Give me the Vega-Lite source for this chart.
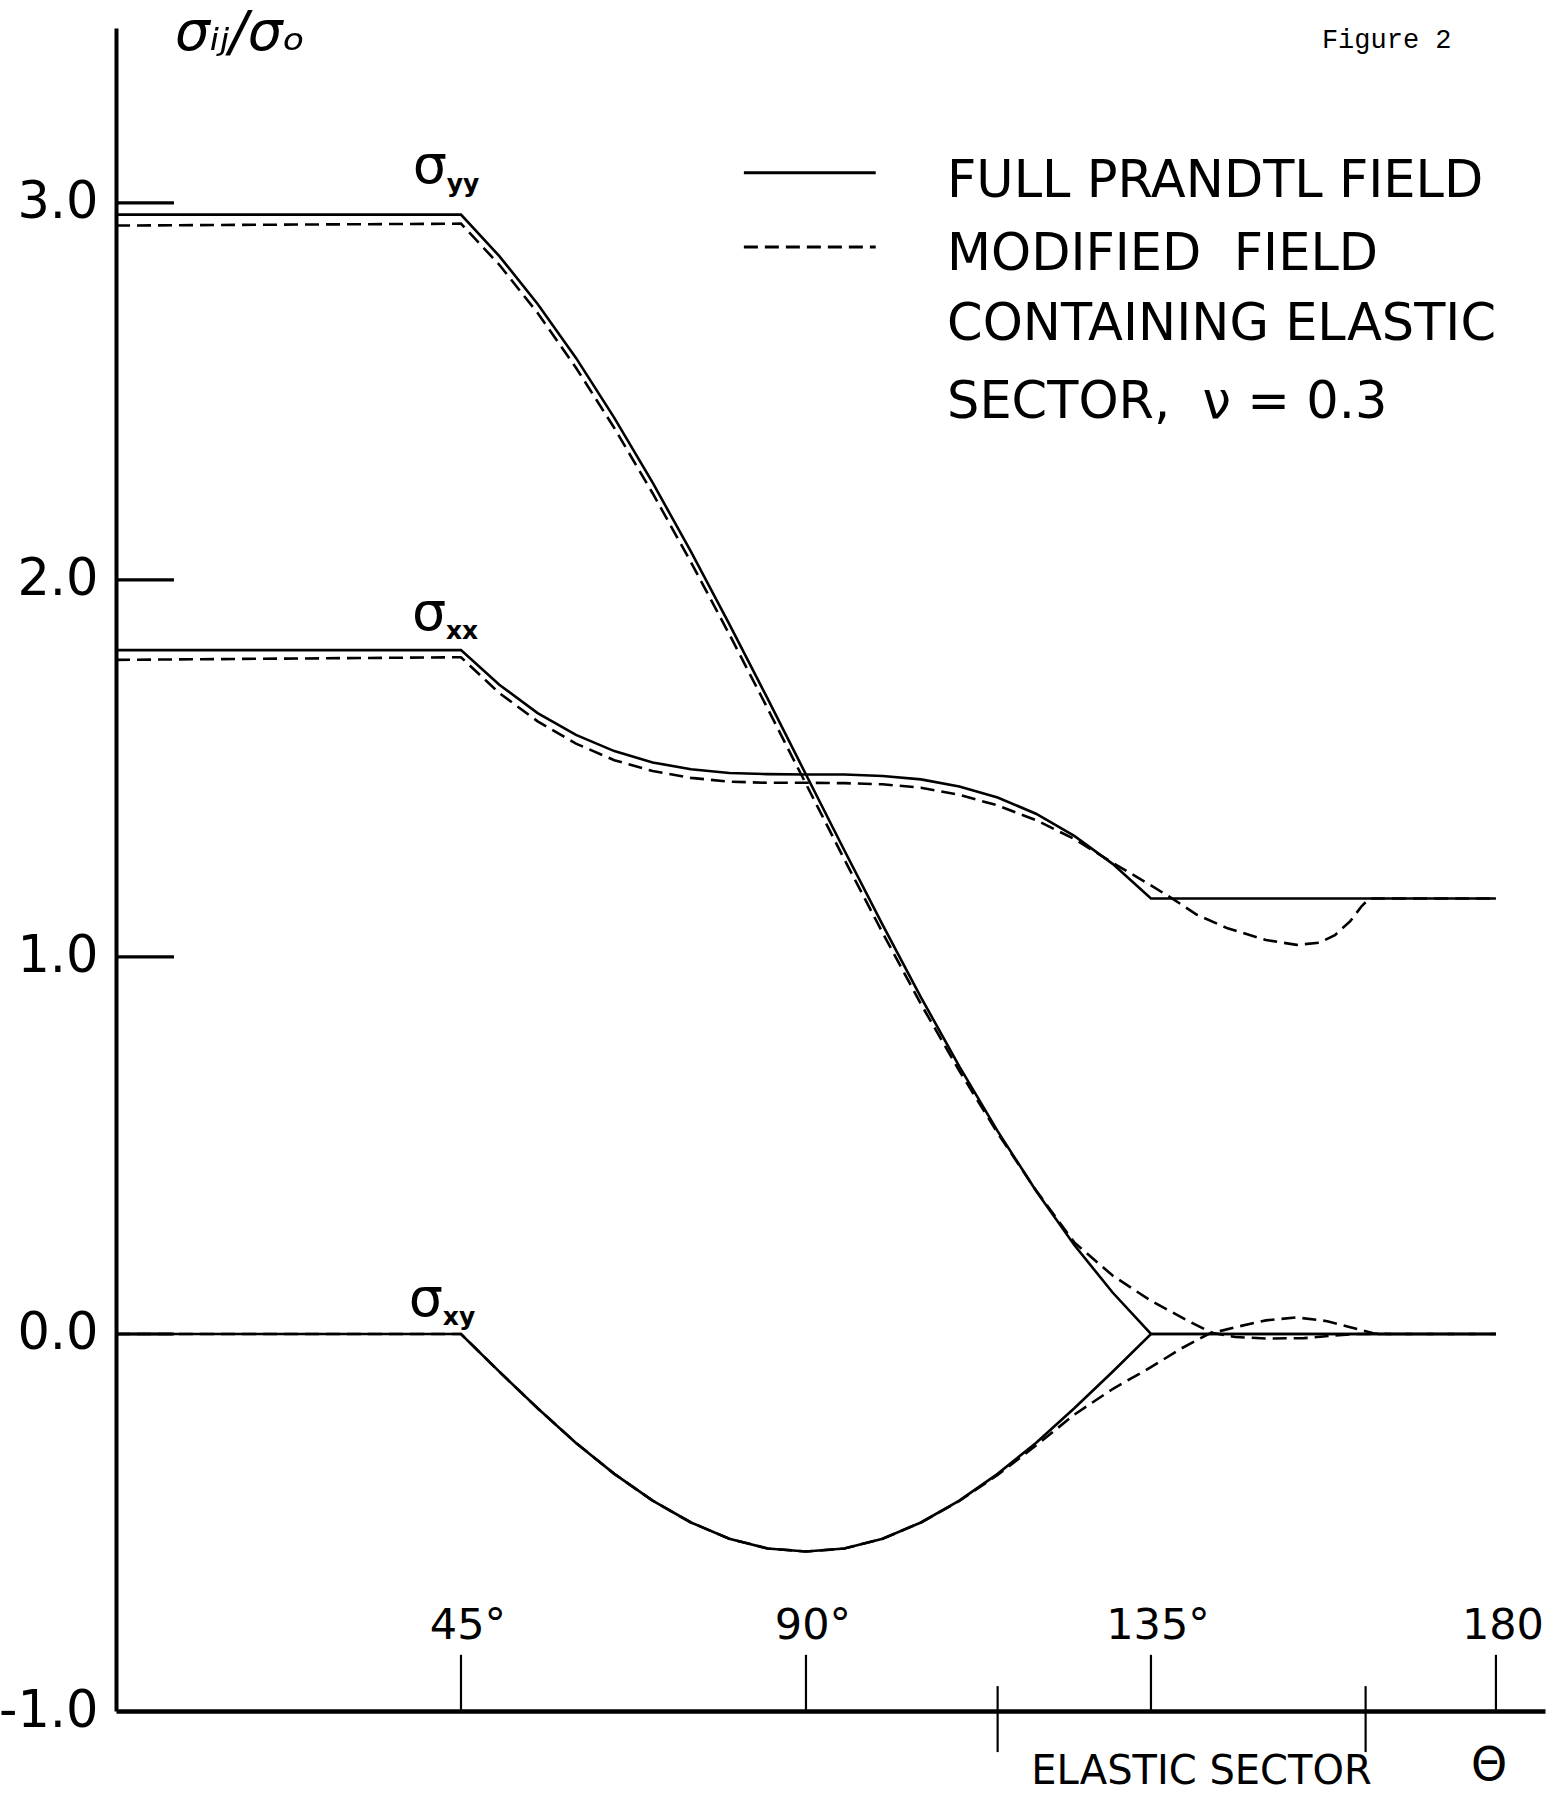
{
"$schema":"https://vega.github.io/schema/vega-lite/v6.json",
"width":1429,"height":1683,
"autosize":{"type":"none"},
"padding":{"left":116,"top":28,"right":5,"bottom":86},
"background":"white",
"config":{"view":{"stroke":null},"axis":{"grid":false},"text":{"font":"DejaVu Sans","color":"black"}},
"datasets":{
"full":[
{"stress":"yy","theta":0,"value":2.969},{"stress":"yy","theta":45,"value":2.969},{"stress":"yy","theta":50,"value":2.859},{"stress":"yy","theta":55,"value":2.732},{"stress":"yy","theta":60,"value":2.589},{"stress":"yy","theta":65,"value":2.430},{"stress":"yy","theta":70,"value":2.258},{"stress":"yy","theta":75,"value":2.075},{"stress":"yy","theta":80,"value":1.883},{"stress":"yy","theta":85,"value":1.685},{"stress":"yy","theta":90,"value":1.484},{"stress":"yy","theta":95,"value":1.283},{"stress":"yy","theta":100,"value":1.085},{"stress":"yy","theta":105,"value":0.893},{"stress":"yy","theta":110,"value":0.710},{"stress":"yy","theta":115,"value":0.538},{"stress":"yy","theta":120,"value":0.380},{"stress":"yy","theta":125,"value":0.236},{"stress":"yy","theta":130,"value":0.110},{"stress":"yy","theta":135,"value":0},{"stress":"yy","theta":180,"value":0},
{"stress":"xx","theta":0,"value":1.814},{"stress":"xx","theta":45,"value":1.814},{"stress":"xx","theta":50,"value":1.722},{"stress":"xx","theta":55,"value":1.647},{"stress":"xx","theta":60,"value":1.589},{"stress":"xx","theta":65,"value":1.546},{"stress":"xx","theta":70,"value":1.516},{"stress":"xx","theta":75,"value":1.498},{"stress":"xx","theta":80,"value":1.488},{"stress":"xx","theta":85,"value":1.485},{"stress":"xx","theta":90,"value":1.484},{"stress":"xx","theta":95,"value":1.484},{"stress":"xx","theta":100,"value":1.480},{"stress":"xx","theta":105,"value":1.471},{"stress":"xx","theta":110,"value":1.452},{"stress":"xx","theta":115,"value":1.423},{"stress":"xx","theta":120,"value":1.380},{"stress":"xx","theta":125,"value":1.321},{"stress":"xx","theta":130,"value":1.247},{"stress":"xx","theta":135,"value":1.155},{"stress":"xx","theta":180,"value":1.155},
{"stress":"xy","theta":0,"value":0},{"stress":"xy","theta":45,"value":0},{"stress":"xy","theta":50,"value":-0.100},{"stress":"xy","theta":55,"value":-0.197},{"stress":"xy","theta":60,"value":-0.289},{"stress":"xy","theta":65,"value":-0.371},{"stress":"xy","theta":70,"value":-0.442},{"stress":"xy","theta":75,"value":-0.500},{"stress":"xy","theta":80,"value":-0.543},{"stress":"xy","theta":85,"value":-0.569},{"stress":"xy","theta":90,"value":-0.577},{"stress":"xy","theta":95,"value":-0.569},{"stress":"xy","theta":100,"value":-0.543},{"stress":"xy","theta":105,"value":-0.500},{"stress":"xy","theta":110,"value":-0.442},{"stress":"xy","theta":115,"value":-0.371},{"stress":"xy","theta":120,"value":-0.289},{"stress":"xy","theta":125,"value":-0.197},{"stress":"xy","theta":130,"value":-0.100},{"stress":"xy","theta":135,"value":0},{"stress":"xy","theta":180,"value":0}
],
"modified":[
{"stress":"yy","theta":0,"value":2.940},{"stress":"yy","theta":45,"value":2.945},{"stress":"yy","theta":50,"value":2.836},{"stress":"yy","theta":55,"value":2.708},{"stress":"yy","theta":60,"value":2.563},{"stress":"yy","theta":65,"value":2.403},{"stress":"yy","theta":70,"value":2.230},{"stress":"yy","theta":75,"value":2.047},{"stress":"yy","theta":80,"value":1.856},{"stress":"yy","theta":85,"value":1.659},{"stress":"yy","theta":90,"value":1.459},{"stress":"yy","theta":95,"value":1.259},{"stress":"yy","theta":100,"value":1.064},{"stress":"yy","theta":105,"value":0.875},{"stress":"yy","theta":110,"value":0.698},{"stress":"yy","theta":115,"value":0.533},{"stress":"yy","theta":120,"value":0.381},{"stress":"yy","theta":125,"value":0.243},{"stress":"yy","theta":130,"value":0.155},{"stress":"yy","theta":135,"value":0.088},{"stress":"yy","theta":140,"value":0.033},{"stress":"yy","theta":143,"value":0.003},{"stress":"yy","theta":146,"value":-0.008},{"stress":"yy","theta":150,"value":-0.012},{"stress":"yy","theta":155,"value":-0.011},{"stress":"yy","theta":159,"value":-0.004},{"stress":"yy","theta":162,"value":0},{"stress":"yy","theta":180,"value":0},
{"stress":"xx","theta":0,"value":1.788},{"stress":"xx","theta":45,"value":1.795},{"stress":"xx","theta":50,"value":1.700},{"stress":"xx","theta":55,"value":1.625},{"stress":"xx","theta":60,"value":1.566},{"stress":"xx","theta":65,"value":1.522},{"stress":"xx","theta":70,"value":1.493},{"stress":"xx","theta":75,"value":1.475},{"stress":"xx","theta":80,"value":1.465},{"stress":"xx","theta":85,"value":1.462},{"stress":"xx","theta":90,"value":1.462},{"stress":"xx","theta":95,"value":1.461},{"stress":"xx","theta":100,"value":1.458},{"stress":"xx","theta":105,"value":1.449},{"stress":"xx","theta":110,"value":1.430},{"stress":"xx","theta":115,"value":1.402},{"stress":"xx","theta":120,"value":1.363},{"stress":"xx","theta":125,"value":1.313},{"stress":"xx","theta":130,"value":1.250},{"stress":"xx","theta":135,"value":1.190},{"stress":"xx","theta":138,"value":1.152},{"stress":"xx","theta":141,"value":1.112},{"stress":"xx","theta":145,"value":1.076},{"stress":"xx","theta":150,"value":1.045},{"stress":"xx","theta":154,"value":1.032},{"stress":"xx","theta":157,"value":1.038},{"stress":"xx","theta":159,"value":1.058},{"stress":"xx","theta":161,"value":1.095},{"stress":"xx","theta":162.5,"value":1.135},{"stress":"xx","theta":163.5,"value":1.155},{"stress":"xx","theta":180,"value":1.155},
{"stress":"xy","theta":0,"value":0},{"stress":"xy","theta":45,"value":0},{"stress":"xy","theta":50,"value":-0.100},{"stress":"xy","theta":55,"value":-0.197},{"stress":"xy","theta":60,"value":-0.289},{"stress":"xy","theta":65,"value":-0.371},{"stress":"xy","theta":70,"value":-0.442},{"stress":"xy","theta":75,"value":-0.500},{"stress":"xy","theta":80,"value":-0.543},{"stress":"xy","theta":85,"value":-0.569},{"stress":"xy","theta":90,"value":-0.577},{"stress":"xy","theta":95,"value":-0.569},{"stress":"xy","theta":100,"value":-0.543},{"stress":"xy","theta":105,"value":-0.500},{"stress":"xy","theta":110,"value":-0.443},{"stress":"xy","theta":115,"value":-0.374},{"stress":"xy","theta":120,"value":-0.296},{"stress":"xy","theta":125,"value":-0.214},{"stress":"xy","theta":130,"value":-0.146},{"stress":"xy","theta":135,"value":-0.088},{"stress":"xy","theta":139,"value":-0.038},{"stress":"xy","theta":142.5,"value":0},{"stress":"xy","theta":146,"value":0.018},{"stress":"xy","theta":150,"value":0.036},{"stress":"xy","theta":154,"value":0.044},{"stress":"xy","theta":158,"value":0.034},{"stress":"xy","theta":161,"value":0.018},{"stress":"xy","theta":164,"value":0.002},{"stress":"xy","theta":166,"value":0},{"stress":"xy","theta":180,"value":0}
],
"xticks":[{"theta":45,"label":"45°"},{"theta":90,"label":"90°"},{"theta":135,"label":"135°"},{"theta":180,"label":"180"}],
"sector":[{"theta":115},{"theta":163}],
"yticks":[{"value":0},{"value":1},{"value":2},{"value":3}],
"curveLabels":[{"sub":"yy","theta":38.7,"value":3.053},{"sub":"xx","theta":38.6,"value":1.867},{"sub":"xy","theta":38.2,"value":0.048}],
"legendLines":[{"field":"full","value":3.080},{"field":"modified","value":2.883}],
"legendText":[{"text":"FULL PRANDTL FIELD","value":3.016},{"text":"MODIFIED\u00a0 FIELD","value":2.822},{"text":"CONTAINING ELASTIC","value":2.637},{"text":"SECTOR,\u00a0 ν = 0.3","value":2.430}]
},
"layer":[
{"data":{"name":"modified"},"mark":{"type":"line","color":"black","strokeWidth":2.6,"strokeDash":[14,7]},
 "encoding":{
  "x":{"field":"theta","type":"quantitative","scale":{"domain":[0,186.4],"nice":false,"zero":false},
       "axis":{"orient":"bottom","domain":true,"domainWidth":4.5,"domainColor":"black","ticks":false,"labels":false,"grid":false,"title":null}},
  "y":{"field":"value","type":"quantitative","scale":{"domain":[-1,3.464],"nice":false,"zero":false},
       "axis":{"orient":"left","values":[-1,0,1,2,3],"labelExpr":"datum.value < 0 ? '-' + format(-datum.value, '.1f') : format(datum.value, '.1f')","ticks":false,"tickSize":0,"domain":true,"domainWidth":4,"domainColor":"black","labelFontSize":51,"labelFont":"DejaVu Sans","labelColor":"black","labelPadding":18,"grid":false,"title":null}},
  "detail":{"field":"stress"}}},
{"data":{"name":"full"},"mark":{"type":"line","color":"black","strokeWidth":2.6},
 "encoding":{
  "x":{"field":"theta","type":"quantitative","scale":{"domain":[0,186.4],"nice":false,"zero":false},
       "axis":{"orient":"bottom","domain":true,"domainWidth":4.5,"domainColor":"black","ticks":false,"labels":false,"grid":false,"title":null}},
  "y":{"field":"value","type":"quantitative","scale":{"domain":[-1,3.464],"nice":false,"zero":false},
       "axis":{"orient":"left","values":[-1,0,1,2,3],"labelExpr":"datum.value < 0 ? '-' + format(-datum.value, '.1f') : format(datum.value, '.1f')","ticks":false,"tickSize":0,"domain":true,"domainWidth":4,"domainColor":"black","labelFontSize":51,"labelFont":"DejaVu Sans","labelColor":"black","labelPadding":18,"grid":false,"title":null}},
  "detail":{"field":"stress"}}},
{"data":{"name":"yticks"},"mark":{"type":"rule","color":"black","strokeWidth":3.2},
 "encoding":{
  "x":{"datum":0,"type":"quantitative","scale":{"domain":[0,186.4],"nice":false,"zero":false},
       "axis":{"orient":"bottom","domain":true,"domainWidth":4.5,"domainColor":"black","ticks":false,"labels":false,"grid":false,"title":null}},
  "x2":{"datum":7.56},
  "y":{"field":"value","type":"quantitative","scale":{"domain":[-1,3.464],"nice":false,"zero":false},
       "axis":{"orient":"left","values":[-1,0,1,2,3],"labelExpr":"datum.value < 0 ? '-' + format(-datum.value, '.1f') : format(datum.value, '.1f')","ticks":false,"tickSize":0,"domain":true,"domainWidth":4,"domainColor":"black","labelFontSize":51,"labelFont":"DejaVu Sans","labelColor":"black","labelPadding":18,"grid":false,"title":null}}}},
{"data":{"name":"xticks"},"mark":{"type":"rule","color":"black","strokeWidth":2.2},
 "encoding":{
  "x":{"field":"theta","type":"quantitative","scale":{"domain":[0,186.4],"nice":false,"zero":false},
       "axis":{"orient":"bottom","domain":true,"domainWidth":4.5,"domainColor":"black","ticks":false,"labels":false,"grid":false,"title":null}},
  "y":{"datum":-1,"type":"quantitative","scale":{"domain":[-1,3.464],"nice":false,"zero":false},
       "axis":{"orient":"left","values":[-1,0,1,2,3],"labelExpr":"datum.value < 0 ? '-' + format(-datum.value, '.1f') : format(datum.value, '.1f')","ticks":false,"tickSize":0,"domain":true,"domainWidth":4,"domainColor":"black","labelFontSize":51,"labelFont":"DejaVu Sans","labelColor":"black","labelPadding":18,"grid":false,"title":null}},
  "y2":{"datum":-0.851}}},
{"data":{"name":"xticks"},"mark":{"type":"text","fontSize":43,"align":"center","baseline":"alphabetic","dx":7},
 "encoding":{
  "x":{"field":"theta","type":"quantitative","scale":{"domain":[0,186.4],"nice":false,"zero":false},
       "axis":{"orient":"bottom","domain":true,"domainWidth":4.5,"domainColor":"black","ticks":false,"labels":false,"grid":false,"title":null}},
  "y":{"datum":-0.809,"type":"quantitative","scale":{"domain":[-1,3.464],"nice":false,"zero":false},
       "axis":{"orient":"left","values":[-1,0,1,2,3],"labelExpr":"datum.value < 0 ? '-' + format(-datum.value, '.1f') : format(datum.value, '.1f')","ticks":false,"tickSize":0,"domain":true,"domainWidth":4,"domainColor":"black","labelFontSize":51,"labelFont":"DejaVu Sans","labelColor":"black","labelPadding":18,"grid":false,"title":null}},
  "text":{"field":"label"}}},
{"data":{"name":"sector"},"mark":{"type":"rule","color":"black","strokeWidth":2.2},
 "encoding":{
  "x":{"field":"theta","type":"quantitative","scale":{"domain":[0,186.4],"nice":false,"zero":false},
       "axis":{"orient":"bottom","domain":true,"domainWidth":4.5,"domainColor":"black","ticks":false,"labels":false,"grid":false,"title":null}},
  "y":{"datum":-1.109,"type":"quantitative","scale":{"domain":[-1,3.464],"nice":false,"zero":false},
       "axis":{"orient":"left","values":[-1,0,1,2,3],"labelExpr":"datum.value < 0 ? '-' + format(-datum.value, '.1f') : format(datum.value, '.1f')","ticks":false,"tickSize":0,"domain":true,"domainWidth":4,"domainColor":"black","labelFontSize":51,"labelFont":"DejaVu Sans","labelColor":"black","labelPadding":18,"grid":false,"title":null}},
  "y2":{"datum":-0.934}}},
{"data":{"values":[{"text":"ELASTIC SECTOR"}]},"mark":{"type":"text","fontSize":40,"align":"center","baseline":"alphabetic"},
 "encoding":{
  "x":{"datum":141.6,"type":"quantitative","scale":{"domain":[0,186.4],"nice":false,"zero":false},
       "axis":{"orient":"bottom","domain":true,"domainWidth":4.5,"domainColor":"black","ticks":false,"labels":false,"grid":false,"title":null}},
  "y":{"datum":-1.194,"type":"quantitative","scale":{"domain":[-1,3.464],"nice":false,"zero":false},
       "axis":{"orient":"left","values":[-1,0,1,2,3],"labelExpr":"datum.value < 0 ? '-' + format(-datum.value, '.1f') : format(datum.value, '.1f')","ticks":false,"tickSize":0,"domain":true,"domainWidth":4,"domainColor":"black","labelFontSize":51,"labelFont":"DejaVu Sans","labelColor":"black","labelPadding":18,"grid":false,"title":null}},
  "text":{"field":"text"}}},
{"data":{"values":[{"text":"Θ"}]},"mark":{"type":"text","fontSize":46,"align":"center","baseline":"alphabetic"},
 "encoding":{
  "x":{"datum":179.1,"type":"quantitative","scale":{"domain":[0,186.4],"nice":false,"zero":false},
       "axis":{"orient":"bottom","domain":true,"domainWidth":4.5,"domainColor":"black","ticks":false,"labels":false,"grid":false,"title":null}},
  "y":{"datum":-1.183,"type":"quantitative","scale":{"domain":[-1,3.464],"nice":false,"zero":false},
       "axis":{"orient":"left","values":[-1,0,1,2,3],"labelExpr":"datum.value < 0 ? '-' + format(-datum.value, '.1f') : format(datum.value, '.1f')","ticks":false,"tickSize":0,"domain":true,"domainWidth":4,"domainColor":"black","labelFontSize":51,"labelFont":"DejaVu Sans","labelColor":"black","labelPadding":18,"grid":false,"title":null}},
  "text":{"field":"text"}}},
{"data":{"name":"curveLabels"},"mark":{"type":"text","fontSize":54,"align":"left","baseline":"alphabetic","text":"σ"},
 "encoding":{
  "x":{"field":"theta","type":"quantitative","scale":{"domain":[0,186.4],"nice":false,"zero":false},
       "axis":{"orient":"bottom","domain":true,"domainWidth":4.5,"domainColor":"black","ticks":false,"labels":false,"grid":false,"title":null}},
  "y":{"field":"value","type":"quantitative","scale":{"domain":[-1,3.464],"nice":false,"zero":false},
       "axis":{"orient":"left","values":[-1,0,1,2,3],"labelExpr":"datum.value < 0 ? '-' + format(-datum.value, '.1f') : format(datum.value, '.1f')","ticks":false,"tickSize":0,"domain":true,"domainWidth":4,"domainColor":"black","labelFontSize":51,"labelFont":"DejaVu Sans","labelColor":"black","labelPadding":18,"grid":false,"title":null}}}},
{"data":{"name":"curveLabels"},"mark":{"type":"text","fontSize":25,"fontWeight":"bold","align":"left","baseline":"alphabetic","dx":34,"dy":9},
 "encoding":{
  "x":{"field":"theta","type":"quantitative","scale":{"domain":[0,186.4],"nice":false,"zero":false},
       "axis":{"orient":"bottom","domain":true,"domainWidth":4.5,"domainColor":"black","ticks":false,"labels":false,"grid":false,"title":null}},
  "y":{"field":"value","type":"quantitative","scale":{"domain":[-1,3.464],"nice":false,"zero":false},
       "axis":{"orient":"left","values":[-1,0,1,2,3],"labelExpr":"datum.value < 0 ? '-' + format(-datum.value, '.1f') : format(datum.value, '.1f')","ticks":false,"tickSize":0,"domain":true,"domainWidth":4,"domainColor":"black","labelFontSize":51,"labelFont":"DejaVu Sans","labelColor":"black","labelPadding":18,"grid":false,"title":null}},
  "text":{"field":"sub"}}},
{"data":{"name":"legendLines"},"mark":{"type":"rule","color":"black","strokeWidth":3},
 "encoding":{
  "x":{"datum":81.9,"type":"quantitative","scale":{"domain":[0,186.4],"nice":false,"zero":false},
       "axis":{"orient":"bottom","domain":true,"domainWidth":4.5,"domainColor":"black","ticks":false,"labels":false,"grid":false,"title":null}},
  "x2":{"datum":99.1},
  "y":{"field":"value","type":"quantitative","scale":{"domain":[-1,3.464],"nice":false,"zero":false},
       "axis":{"orient":"left","values":[-1,0,1,2,3],"labelExpr":"datum.value < 0 ? '-' + format(-datum.value, '.1f') : format(datum.value, '.1f')","ticks":false,"tickSize":0,"domain":true,"domainWidth":4,"domainColor":"black","labelFontSize":51,"labelFont":"DejaVu Sans","labelColor":"black","labelPadding":18,"grid":false,"title":null}},
  "strokeDash":{"field":"field","type":"nominal","scale":{"domain":["full","modified"],"range":[[1,0],[14,7]]},"legend":null}}},
{"data":{"name":"legendText"},"mark":{"type":"text","fontSize":51,"align":"left","baseline":"alphabetic"},
 "encoding":{
  "x":{"datum":108.4,"type":"quantitative","scale":{"domain":[0,186.4],"nice":false,"zero":false},
       "axis":{"orient":"bottom","domain":true,"domainWidth":4.5,"domainColor":"black","ticks":false,"labels":false,"grid":false,"title":null}},
  "y":{"field":"value","type":"quantitative","scale":{"domain":[-1,3.464],"nice":false,"zero":false},
       "axis":{"orient":"left","values":[-1,0,1,2,3],"labelExpr":"datum.value < 0 ? '-' + format(-datum.value, '.1f') : format(datum.value, '.1f')","ticks":false,"tickSize":0,"domain":true,"domainWidth":4,"domainColor":"black","labelFontSize":51,"labelFont":"DejaVu Sans","labelColor":"black","labelPadding":18,"grid":false,"title":null}},
  "text":{"field":"text"}}},
{"data":{"values":[{"text":"Figure 2"}]},"mark":{"type":"text","font":"Liberation Mono","fontSize":27,"align":"left","baseline":"alphabetic"},
 "encoding":{
  "x":{"datum":157.3,"type":"quantitative","scale":{"domain":[0,186.4],"nice":false,"zero":false},
       "axis":{"orient":"bottom","domain":true,"domainWidth":4.5,"domainColor":"black","ticks":false,"labels":false,"grid":false,"title":null}},
  "y":{"datum":3.411,"type":"quantitative","scale":{"domain":[-1,3.464],"nice":false,"zero":false},
       "axis":{"orient":"left","values":[-1,0,1,2,3],"labelExpr":"datum.value < 0 ? '-' + format(-datum.value, '.1f') : format(datum.value, '.1f')","ticks":false,"tickSize":0,"domain":true,"domainWidth":4,"domainColor":"black","labelFontSize":51,"labelFont":"DejaVu Sans","labelColor":"black","labelPadding":18,"grid":false,"title":null}},
  "text":{"field":"text"}}},
{"data":{"values":[{"text":"σᵢⱼ/σₒ"}]},"mark":{"type":"text","fontSize":55,"fontStyle":"italic","align":"left","baseline":"alphabetic"},
 "encoding":{
  "x":{"datum":7.7,"type":"quantitative","scale":{"domain":[0,186.4],"nice":false,"zero":false},
       "axis":{"orient":"bottom","domain":true,"domainWidth":4.5,"domainColor":"black","ticks":false,"labels":false,"grid":false,"title":null}},
  "y":{"datum":3.406,"type":"quantitative","scale":{"domain":[-1,3.464],"nice":false,"zero":false},
       "axis":{"orient":"left","values":[-1,0,1,2,3],"labelExpr":"datum.value < 0 ? '-' + format(-datum.value, '.1f') : format(datum.value, '.1f')","ticks":false,"tickSize":0,"domain":true,"domainWidth":4,"domainColor":"black","labelFontSize":51,"labelFont":"DejaVu Sans","labelColor":"black","labelPadding":18,"grid":false,"title":null}},
  "text":{"field":"text"}}}
]
}
